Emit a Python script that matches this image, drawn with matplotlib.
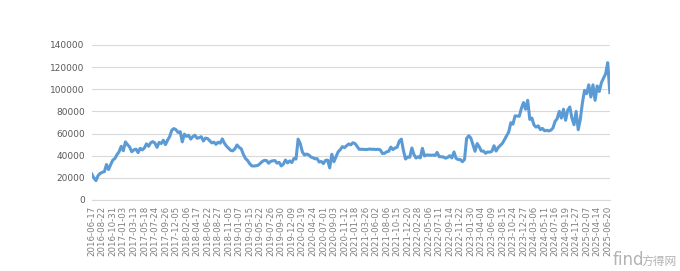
"""Recreate the daily price line chart (2016-06 to 2025-06)."""

from __future__ import annotations

import matplotlib

matplotlib.use("Agg")
import matplotlib.pyplot as plt
import numpy as np

# Category axis labels (every 45th trading day).
tick_labels = [
    "2016-06-17", "2016-08-22", "2016-10-31", "2017-01-03", "2017-03-13",
    "2017-05-18", "2017-07-24", "2017-09-26", "2017-12-05", "2018-02-06",
    "2018-04-17", "2018-06-22", "2018-08-27", "2018-11-05", "2019-01-07",
    "2019-03-15", "2019-05-22", "2019-07-26", "2019-09-30", "2019-12-09",
    "2020-02-19", "2020-04-24", "2020-07-01", "2020-09-03", "2020-11-12",
    "2021-01-18", "2021-03-26", "2021-06-02", "2021-08-06", "2021-10-15",
    "2021-12-20", "2022-02-28", "2022-05-06", "2022-07-11", "2022-09-14",
    "2022-11-22", "2023-01-30", "2023-04-04", "2023-06-09", "2023-08-15",
    "2023-10-24", "2023-12-27", "2024-03-06", "2024-05-11", "2024-07-16",
    "2024-09-19", "2024-11-27", "2025-02-07", "2025-04-14", "2025-06-20",
]
label_step = 45  # trading days between labels

# Price, one value every 9 trading days.
sample_step = 9
values = [
    23500, 20000, 17500, 22000, 24100, 25000, 25600, 32000, 27500, 32000,
    36000, 37500, 41000, 43600, 48500, 44500, 52500, 50000, 47800, 43600,
    45200, 46000, 42800, 46700, 45200, 47000, 50700, 48500, 51700, 52700,
    51400, 47500, 52000, 51000, 54000, 50000, 54000, 57200, 63000, 64500,
    63500, 61000, 61700, 52500, 59500, 57500, 58500, 55000, 57200, 58500,
    55700, 56300, 57200, 53300, 55900, 55500, 53600, 51600, 52200, 50300,
    52200, 51300, 55200, 51300, 48600, 46700, 44800, 44400, 46300, 49700,
    47500, 46200, 41200, 37500, 35700, 32800, 30800, 30700, 30900, 31400,
    33000, 34800, 35800, 35600, 33200, 34900, 35400, 35600, 33300, 34000,
    30800, 32400, 36100, 33500, 35300, 33800, 37500, 37000, 55000, 51000,
    43500, 40600, 41500, 40800, 38900, 38200, 37200, 37400, 34300, 34800,
    32900, 35800, 36000, 29000, 41300, 34600, 39000, 43500, 45500, 48200,
    47300, 49000, 50600, 49800, 51700, 51000, 48400, 45800, 45800, 45800,
    45500, 45800, 46000, 45800, 45800, 45600, 45800, 45300, 42100, 42100,
    43500, 44000, 47800, 45500, 47000, 47600, 53000, 55000, 44700, 37000,
    38900, 38500, 47000, 41000, 37900, 39100, 38000, 46700, 39800, 40600,
    40600, 40400, 40600, 40200, 43000, 39100, 39100, 38800, 37800, 38500,
    40000, 38000, 43400, 37600, 36500, 36500, 34600, 36500, 55500, 58000,
    56000, 50000, 44000, 51000, 48000, 44200, 44200, 42200, 43400, 43200,
    44000, 49000, 44200, 47400, 49300, 51200, 54600, 58000, 61400, 69800,
    68500, 76000, 75800, 75600, 82700, 88000, 82000, 90000, 72800, 74000,
    67700, 65800, 67000, 63600, 64700, 62500, 63000, 62300, 63100, 65000,
    71000, 73500, 80000, 74000, 82000, 72000, 81000, 84000, 74000, 68000,
    80000, 63500, 73000, 88000, 99000, 96000, 104000, 93000, 104000, 90000,
    103000, 98000, 106000, 110000, 114000, 124000, 97000,
]

y_ticks = [0, 20000, 40000, 60000, 80000, 100000, 120000, 140000]


def main() -> None:
    """Draw the chart and save it as out.png."""
    plt.rcParams["font.family"] = ["DejaVu Sans", "Noto Sans CJK SC"]

    fig = plt.figure(figsize=(6.8, 2.71), dpi=100)
    ax = fig.add_axes([0.1349, 0.2620, 0.7619, 0.5720])

    x = np.arange(len(values)) * sample_step
    ax.plot(x, values, color="#5B9BD5", linewidth=2.2, solid_joinstyle="round")

    ax.set_xlim(0, x[-1])
    ax.set_ylim(0, 140000)
    ax.set_yticks(y_ticks)
    ax.set_yticklabels([str(v) for v in y_ticks])
    ax.set_xticks(np.arange(len(tick_labels)) * label_step)
    ax.set_xticklabels(tick_labels, rotation=90)

    ax.grid(axis="y", color="#D9D9D9", linewidth=0.8)
    ax.set_axisbelow(True)
    for side in ("top", "right", "left"):
        ax.spines[side].set_visible(False)
    ax.spines["bottom"].set_color("#D9D9D9")
    ax.spines["bottom"].set_linewidth(0.8)

    ax.tick_params(axis="y", length=0, pad=5, labelsize=6.5, labelcolor="#595959")
    ax.tick_params(axis="x", length=0, pad=4, labelsize=6.2, labelcolor="#7F7F7F")

    # site watermark, bottom right (kept clear of the last date labels)
    fig.text(
        613 / 680, 1 - 265 / 271, "find", ha="left", va="baseline",
        fontsize=12, color="#B3B3B3",
    )
    fig.text(
        677 / 680, 1 - 265 / 271, "方得网", ha="right", va="baseline",
        fontsize=8.5, color="#B3B3B3", family=["Noto Sans CJK SC", "DejaVu Sans"],
    )

    fig.savefig("out.png", dpi=100, facecolor="white")
    plt.close(fig)


if __name__ == "__main__":
    main()
